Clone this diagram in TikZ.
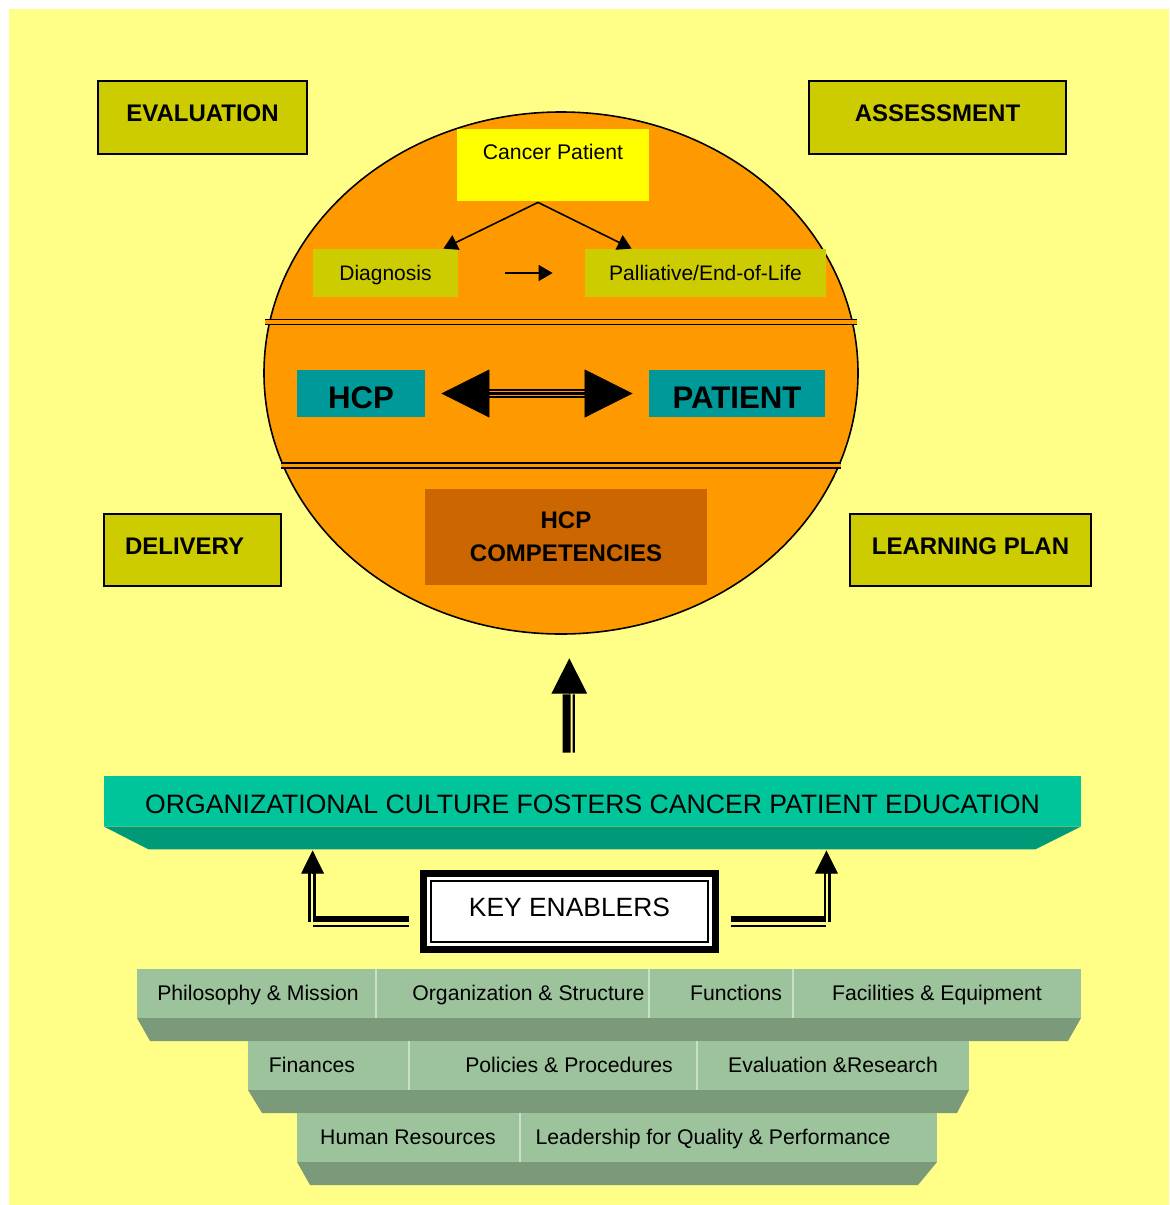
\documentclass[tikz,border=0pt]{standalone}
\usepackage{fontspec}
\setmainfont{Liberation Sans}
\usetikzlibrary{positioning,shapes.geometric,arrows.meta,calc}
\definecolor{bgyellow}{HTML}{FFFF88}
\definecolor{olive}{HTML}{CCCC00}
\definecolor{orangefill}{HTML}{FF9900}
\definecolor{patyellow}{HTML}{FFFF00}
\definecolor{hcpteal}{HTML}{009999}
\definecolor{compbrown}{HTML}{CC6600}
\definecolor{bannertop}{HTML}{00C49A}
\definecolor{bannerside}{HTML}{009A78}
\definecolor{tiertop}{HTML}{9CC39C}
\definecolor{tierside}{HTML}{7A9A7A}
\definecolor{tierline}{HTML}{C8E0C8}
\tikzstyle{phase} = [rectangle, draw=black, line width=1pt, fill=olive, inner sep=0pt, minimum height=36.5pt, text height=8.6pt, text depth=4.5pt, font=\fontsize{12}{14}\selectfont\bfseries]
\tikzstyle{stage} = [rectangle, fill=olive, inner sep=0pt, minimum height=24pt, text height=7.5pt, text depth=0pt, font=\fontsize{10.5}{12}\selectfont]
\tikzstyle{actor} = [rectangle, fill=hcpteal, inner sep=0pt, minimum height=23.5pt, text height=14.7pt, text depth=0pt, font=\fontsize{15.6}{18}\selectfont\bfseries]
\tikzstyle{enabler} = [inner sep=0pt, text height=7.6pt, text depth=0pt, font=\fontsize{10.6}{12}\selectfont]
\tikzstyle{sepline} = [line width=0.9pt, double=orangefill, double distance=1.6pt]
\tikzstyle{arrow} = [line width=0.8pt, -{Triangle[length=7pt,width=8pt]}]

\begin{document}
\begin{tikzpicture}[x=0.5pt,y=-0.5pt]
\useasboundingbox (0,0) rectangle (1169,1205);
\fill[white] (0,0) rectangle (1169,1205);
\fill[bgyellow] (9,9) rectangle (1169,1205);
%
\node (eval) at (202.5,117.5) [phase, minimum width=104.5pt] {EVALUATION};
\node (assess) at (937.5,117.5) [phase, minimum width=128.5pt] {ASSESSMENT};
\node (deliv) at (192.5,550) [phase, minimum width=88.5pt, minimum height=36pt,
text width=67.5pt, align=left] {DELIVERY};
\node (learn) at (970.5,550) [phase, minimum width=120.5pt, minimum height=36pt] {LEARNING PLAN};
%
\node (circle) at (561,373) [ellipse, draw=black, line width=0.8pt, fill=orangefill,
minimum width=297pt, minimum height=261pt, inner sep=0pt] {};
%
\node (cancer) at (553,165) [rectangle, fill=patyellow, inner sep=0pt,
minimum width=96pt, minimum height=36pt, text height=7.6pt, text depth=13pt,
font=\fontsize{10.6}{12}\selectfont] {Cancer Patient};
\node (diag) at (385.5,273) [stage, minimum width=72.5pt] {Diagnosis};
\node (pall) at (705.5,273) [stage, minimum width=120.5pt] {Palliative/End-of-Life};
\coordinate (split) at ($(cancer.south)+(-15,1)$);
\draw [arrow] (split) -- ($(diag.north east)+(-15,0)$);
\draw [arrow] (split) -- ($(pall.north west)+(47,0)$);
\draw [arrow, line width=0.75pt, shorten <=23.5pt, shorten >=16pt] (diag) -- (pall);
%
\draw [sepline] (265,322) -- (857,322);
\draw [sepline] (281,465.5) -- (841,465.5);
%
\node (hcp) at (361,393.5) [actor, minimum width=64pt] {HCP};
\node (patient) at (737,393.5) [actor, minimum width=88pt] {PATIENT};
\draw [line width=1.1pt, double=orangefill, double distance=2.4pt, shorten <=28pt, shorten >=28pt] (hcp) -- (patient);
\draw [line width=1.1pt, shorten <=28pt, shorten >=28pt] (hcp) -- (patient);
\draw [line width=0.3pt, {Triangle[length=24pt,width=24pt]}-{Triangle[length=24pt,width=24pt]},
shorten <=8pt, shorten >=8pt] (hcp) -- (patient);
%
\node (comp) at (566,537) [rectangle, fill=compbrown, minimum width=141pt, minimum height=48pt,
align=center, font=\fontsize{12}{16.5}\selectfont\bfseries] {HCP\\COMPETENCIES};
%
\node (banner) at (592.5,801) [rectangle, fill=bannertop, inner sep=0pt,
minimum width=488.5pt, minimum height=25pt, text height=12.5pt, text depth=0pt,
font=\fontsize{13.3}{15}\selectfont] {ORGANIZATIONAL CULTURE FOSTERS CANCER PATIENT EDUCATION};
\fill [bannerside] (banner.south west) -- (banner.south east) -- ++(-46,23)
-- ($(banner.south west)+(45,23)$) -- cycle;
%
% culture arrow up to the circle
\coordinate (upfoot) at ($(banner.north)+(-23.2,-23)$);
\coordinate (uptip) at ($(circle.south)+(8.3,23.5)$);
\draw [line width=4pt] ($(upfoot)+(-2.6,0)$) -- ($(uptip)+(-2.6,36)$);
\draw [line width=1.15pt] ($(upfoot)+(4.5,0)$) -- ($(uptip)+(4.5,36)$);
\draw [line width=0.5pt, -{Triangle[length=17.7pt,width=17.8pt]}] ($(uptip)+(0,36)$) -- (uptip);
%
\node (keys) at (569.5,911.5) [rectangle, draw=black, line width=3.5pt, outer sep=0pt, fill=white,
minimum width=146pt, minimum height=38pt, text height=9.45pt, text depth=4pt,
font=\fontsize{13.2}{15}\selectfont] {KEY ENABLERS};
\draw [line width=1pt] ($(keys.north west)+(7.5,7.5)$) rectangle ($(keys.south east)+(-7.5,-7.5)$);
%
% enabler arrows to the banner
\coordinate (lfoot) at ($(keys.west)+(-15,7.5)$);
\coordinate (ltip) at ($(banner.south west)+(209,24)$);
\coordinate (lcorner) at (lfoot -| ltip);
\draw [line width=3pt] (lfoot) -- (lcorner);
\draw [line width=1pt] ($(lfoot)+(0,7)$) -- ($(lcorner)+(0,7)$);
\draw [line width=1.2pt] ($(lcorner)+(-3,3)$) -- ($(ltip)+(-3,23)$);
\draw [line width=1.2pt] ($(lcorner)+(1.7,-1.5)$) -- ($(ltip)+(1.7,23)$);
\draw [line width=0.5pt, -{Triangle[length=11.6pt,width=11.4pt]}] ($(ltip)+(0,23)$) -- (ltip);
%
\coordinate (rfoot) at ($(keys.east)+(15,7.5)$);
\coordinate (rtip) at ($(banner.south east)+(-255,24)$);
\coordinate (rcorner) at (rfoot -| rtip);
\draw [line width=3pt] (rfoot) -- (rcorner);
\draw [line width=1pt] ($(rfoot)+(0,7)$) -- ($(rcorner)+(0,7)$);
\draw [line width=1.2pt] ($(rcorner)+(3,3)$) -- ($(rtip)+(3,23)$);
\draw [line width=1.2pt] ($(rcorner)+(-1.7,-1.5)$) -- ($(rtip)+(-1.7,23)$);
\draw [line width=0.5pt, -{Triangle[length=11.6pt,width=11.4pt]}] ($(rtip)+(0,23)$) -- (rtip);
%
% tiers of enablers
\fill [tiertop] (137,969) rectangle (1081,1018);
\fill [tierside] (137,1018) -- (1081,1018) -- (1068,1041) -- (150,1041) -- cycle;
\fill [tiertop] (248,1041) rectangle (969,1090);
\fill [tierside] (248,1090) -- (969,1090) -- (957,1113) -- (262,1113) -- cycle;
\fill [tiertop] (297,1113) rectangle (937,1162);
\fill [tierside] (297,1162) -- (937,1162) -- (918,1185) -- (310,1185) -- cycle;
\foreach \x in {376,649,793} \draw [tierline, line width=0.8pt] (\x,969) -- (\x,1018);
\foreach \x in {409,697} \draw [tierline, line width=0.8pt] (\x,1041) -- (\x,1090);
\draw [tierline, line width=0.8pt] (520,1113) -- (520,1162);
%
\node (philo) at (258,993) [enabler] {Philosophy \& Mission};
\node (orgstruct) at (528.5,993) [enabler] {Organization \& Structure};
\node (functions) at (736,993) [enabler] {Functions};
\node (facilities) at (937,993) [enabler] {Facilities \& Equipment};
%
\node (finances) at (312,1065) [enabler] {Finances};
\node (policies) at (569,1065) [enabler] {Policies \& Procedures};
\node (evalres) at (833,1065) [enabler] {Evaluation \&Research};
%
\node (humanres) at (408,1137) [enabler] {Human Resources};
\node (leadership) at (713,1137) [enabler] {Leadership for Quality \& Performance};

\end{tikzpicture}
\end{document}
